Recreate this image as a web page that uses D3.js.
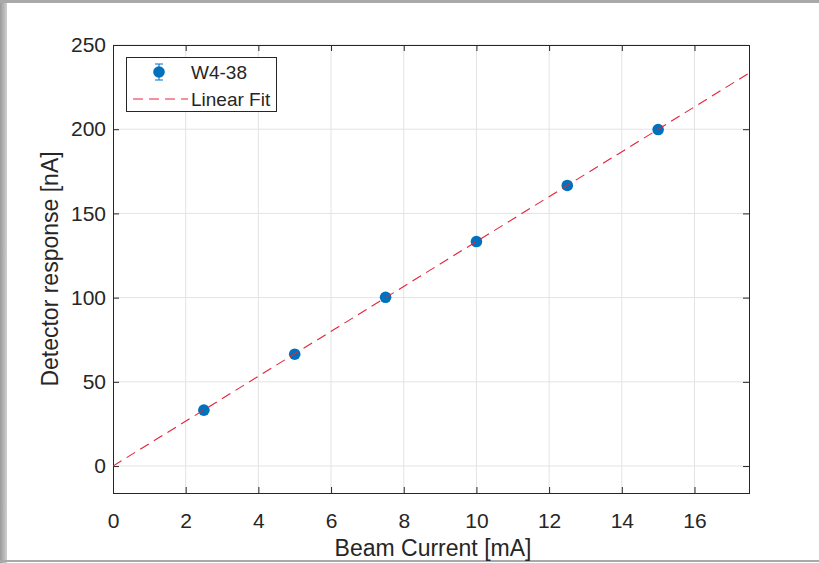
<!DOCTYPE html>
<html>
<head>
<meta charset="utf-8">
<script src="https://cdn.jsdelivr.net/npm/d3@7"></script>
<style>
  html, body { margin: 0; padding: 0; background: #fff; }
  svg { display: block; font-family: "Liberation Sans", Arial, Helvetica, sans-serif; }
</style>
</head>
<body>
<svg id="chart" width="819" height="563"></svg>
<script>
// Measured beam current (mA) and detector response (nA)
const beamCurrent = [2.5, 5, 7.5, 10, 12.5, 15];
const response = [33.2, 66.4, 100.2, 133.3, 166.6, 199.8];
const responseErr = [1.0, 1.0, 1.0, 1.0, 1.0, 1.0];
// Linear fit: response = slope * current + intercept
const fitSlope = 13.33;
const fitIntercept = 0;
const xTicks = [0, 2, 4, 6, 8, 10, 12, 14, 16];
const yTicks = [0, 50, 100, 150, 200, 250];
const seriesName = "W4-38";
const fitName = "Linear Fit";

const svg = d3.select("#chart");
const W = 819, H = 563;
const box = { left: 113, right: 749, top: 45, bottom: 493 };

// page frame (window edges)
const grad = svg.append("defs").append("linearGradient").attr("id", "edge").attr("x1", 0).attr("x2", 1);
grad.append("stop").attr("offset", 0).attr("stop-color", "#9a9a9a");
grad.append("stop").attr("offset", 1).attr("stop-color", "#cfcfcf");
svg.append("rect").attr("x", 0).attr("y", 0).attr("width", 7).attr("height", H).attr("fill", "url(#edge)");
svg.append("rect").attr("x", 0).attr("y", 0).attr("width", W).attr("height", 3).attr("fill", "#a9a9a9");
svg.append("rect").attr("x", 0).attr("y", 560).attr("width", W).attr("height", 2).attr("fill", "#a9a9a9");

const x = d3.scaleLinear().domain([0, 17.5]).range([box.left, box.right]);
const y = d3.scaleLinear().domain([-16, 250]).range([box.bottom, box.top]);

const ink = "#262626";
const g = svg.append("g");

// grid
g.append("g").selectAll("line").data(xTicks.filter(t => t > 0)).join("line")
  .attr("x1", d => x(d)).attr("x2", d => x(d))
  .attr("y1", box.top).attr("y2", box.bottom)
  .attr("stroke", "#e3e3e3").attr("stroke-width", 1);
g.append("g").selectAll("line").data(yTicks).join("line")
  .attr("x1", box.left).attr("x2", box.right)
  .attr("y1", d => y(d)).attr("y2", d => y(d))
  .attr("stroke", "#e3e3e3").attr("stroke-width", 1);

// axes with inward ticks on all four sides
const tickLen = 6;
const axBottom = d3.axisBottom(x).tickValues(xTicks).tickSize(-tickLen).tickPadding(20).tickFormat(d3.format("d"));
const axLeft = d3.axisLeft(y).tickValues(yTicks).tickSize(-tickLen).tickPadding(7).tickFormat(d3.format("d"));
const axTop = d3.axisTop(x).tickValues(xTicks).tickSize(-tickLen).tickFormat("");
const axRight = d3.axisRight(y).tickValues(yTicks).tickSize(-tickLen).tickFormat("");

function styleAxis(sel) {
  sel.select(".domain").remove();
  sel.selectAll(".tick line").attr("stroke", ink).attr("stroke-width", 1);
  sel.selectAll(".tick text").attr("fill", ink).attr("font-size", 21)
    .attr("font-family", "'Liberation Sans', Arial, sans-serif");
}
g.append("g").attr("transform", `translate(0,${box.bottom})`).call(axBottom).call(styleAxis);
g.append("g").attr("transform", `translate(${box.left},0)`).call(axLeft).call(styleAxis);
g.append("g").attr("transform", `translate(0,${box.top})`).call(axTop).call(styleAxis);
g.append("g").attr("transform", `translate(${box.right},0)`).call(axRight).call(styleAxis);

// axes box
g.append("rect").attr("x", box.left + 0.5).attr("y", box.top + 0.5)
  .attr("width", box.right - box.left).attr("height", box.bottom - box.top)
  .attr("fill", "none").attr("stroke", ink).attr("stroke-width", 1);

// clipped plot area
svg.append("defs").append("clipPath").attr("id", "plotclip")
  .append("rect").attr("x", box.left).attr("y", box.top)
  .attr("width", box.right - box.left).attr("height", box.bottom - box.top);
const plot = g.append("g").attr("clip-path", "url(#plotclip)");

// error bars
const blue = "#0072BD";
const red = "#e3243a";
const pts = beamCurrent.map((c, i) => ({ c, r: response[i], e: responseErr[i] }));
plot.append("g").selectAll("line").data(pts).join("line")
  .attr("x1", d => x(d.c)).attr("x2", d => x(d.c))
  .attr("y1", d => y(d.r - d.e)).attr("y2", d => y(d.r + d.e))
  .attr("stroke", blue).attr("stroke-width", 1);

// markers
plot.append("g").selectAll("circle").data(pts).join("circle")
  .attr("cx", d => x(d.c)).attr("cy", d => y(d.r)).attr("r", 5.8)
  .attr("fill", blue);

// linear fit
const fitX = [0, 17.5];
plot.append("path")
  .attr("d", d3.line().x(d => x(d)).y(d => y(fitSlope * d + fitIntercept))(fitX))
  .attr("fill", "none").attr("stroke", red).attr("stroke-width", 1.1)
  .attr("stroke-dasharray", "10,6");

// axis labels
svg.append("text").attr("x", (box.left + box.right) / 2 + 2).attr("y", 556)
  .attr("text-anchor", "middle").attr("fill", ink).attr("font-size", 23)
  .text("Beam Current [mA]");
svg.append("text").attr("transform", `translate(58,${(box.top + box.bottom) / 2}) rotate(-90)`)
  .attr("text-anchor", "middle").attr("fill", ink).attr("font-size", 23)
  .text("Detector response [nA]");

// legend
const lg = svg.append("g");
lg.append("rect").attr("x", 126.5).attr("y", 57.5).attr("width", 150).attr("height", 54)
  .attr("fill", "#fff").attr("stroke", ink).attr("stroke-width", 1);
const ly1 = 72, ly2 = 99, lmx = 159;
lg.append("line").attr("x1", lmx).attr("x2", lmx).attr("y1", ly1 - 8).attr("y2", ly1 + 8)
  .attr("stroke", blue);
[ly1 - 8, ly1 + 8].forEach(yy => lg.append("line").attr("x1", lmx - 4).attr("x2", lmx + 4)
  .attr("y1", yy).attr("y2", yy).attr("stroke", blue));
lg.append("circle").attr("cx", lmx).attr("cy", ly1).attr("r", 5.8).attr("fill", blue);
lg.append("line").attr("x1", 133).attr("x2", 188).attr("y1", ly2).attr("y2", ly2)
  .attr("stroke", red).attr("stroke-dasharray", "10,6");
lg.append("text").attr("x", 191).attr("y", ly1 + 7).attr("fill", ink).attr("font-size", 19).text(seriesName);
lg.append("text").attr("x", 191).attr("y", ly2 + 7).attr("fill", ink).attr("font-size", 19).text(fitName);
</script>
</body>
</html>
